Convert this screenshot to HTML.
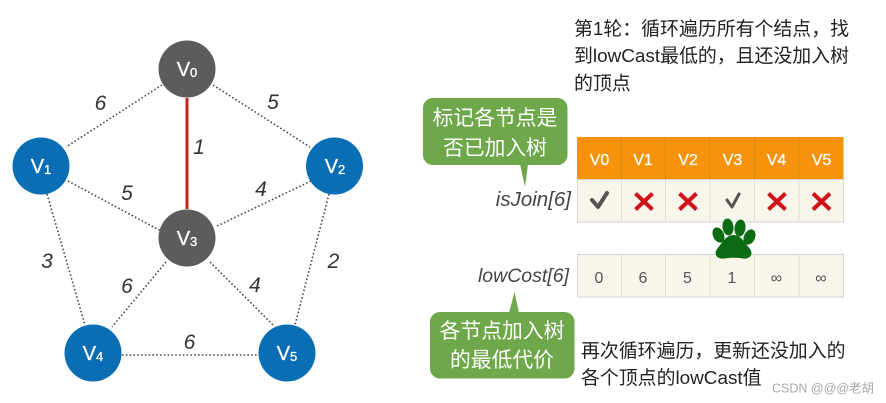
<!DOCTYPE html>
<html>
<head>
<meta charset="utf-8">
<style>
html,body{margin:0;padding:0;background:#fff;width:886px;height:403px;overflow:hidden}
svg{display:block;filter:blur(0.35px)}
text{font-family:"Liberation Sans","Noto Sans CJK SC",sans-serif}
.e{stroke:#4a4a4a;stroke-width:1.6;stroke-dasharray:1.6 2.2;fill:none}
.w{font-size:21px;font-style:italic;fill:#333;text-anchor:middle}
.n{font-size:20px;fill:#fff;text-anchor:middle;stroke:#fff;stroke-width:.3}
.n tspan{font-size:13px}
.h{font-size:16px;fill:#fff;text-anchor:middle;stroke:#fff;stroke-width:.25}
.c{font-size:16px;fill:#555;text-anchor:middle}
.l{font-style:italic;fill:#444;text-anchor:end}
.b{font-size:20.800px;fill:#fff;text-anchor:middle}
.t{font-size:18.900px;fill:#222}
.x{stroke:#d0121b;stroke-width:4;fill:none}
.k{stroke:#555;fill:none;stroke-linecap:round;stroke-linejoin:round}
</style>
</head>
<body>
<svg width="886" height="403" viewBox="0 0 886 403" xmlns="http://www.w3.org/2000/svg">
<rect width="886" height="403" fill="#fff"/>

<!-- edges -->
<line class="e" x1="162" y1="85" x2="66" y2="147"/>
<line class="e" x1="213" y1="85" x2="310" y2="147"/>
<line class="e" x1="68" y1="181" x2="161" y2="231"/>
<line class="e" x1="311" y1="181" x2="215" y2="227"/>
<line class="e" x1="47" y1="194" x2="85" y2="325"/>
<line class="e" x1="329" y1="194" x2="295" y2="325"/>
<line class="e" x1="166" y1="262" x2="112" y2="327"/>
<line class="e" x1="210" y1="262" x2="274" y2="326"/>
<line class="e" x1="122" y1="355" x2="258" y2="355"/>
<line x1="187" y1="98" x2="187" y2="209" stroke="#cc1f1f" stroke-width="3"/>

<!-- weights -->
<text class="w" x="100.500" y="110">6</text>
<text class="w" x="273" y="109">5</text>
<text class="w" x="199" y="154">1</text>
<text class="w" x="127" y="200">5</text>
<text class="w" x="261" y="196">4</text>
<text class="w" x="47" y="268">3</text>
<text class="w" x="333.500" y="268">2</text>
<text class="w" x="127" y="293">6</text>
<text class="w" x="255" y="292">4</text>
<text class="w" x="189.500" y="349">6</text>

<!-- nodes -->
<circle cx="187" cy="69" r="28.500" fill="#5c5c5c"/>
<circle cx="41" cy="166" r="28.500" fill="#0a6eb4"/>
<circle cx="334.500" cy="166" r="28.500" fill="#0a6eb4"/>
<circle cx="187" cy="238" r="28.500" fill="#5c5c5c"/>
<circle cx="93" cy="353" r="28.500" fill="#0a6eb4"/>
<circle cx="287" cy="353" r="28.500" fill="#0a6eb4"/>
<text class="n" x="187" y="76">V<tspan dy="1">0</tspan></text>
<text class="n" x="41" y="173">V<tspan dy="1">1</tspan></text>
<text class="n" x="335" y="173">V<tspan dy="1">2</tspan></text>
<text class="n" x="187" y="245">V<tspan dy="1">3</tspan></text>
<text class="n" x="93" y="360">V<tspan dy="1">4</tspan></text>
<text class="n" x="287" y="360">V<tspan dy="1">5</tspan></text>

<!-- top text -->
<text class="t" x="574" y="35">第1轮：循环遍历所有个结点，找</text>
<text class="t" x="574" y="62">到lowCast最低的，且还没加入树</text>
<text class="t" x="574" y="89.500">的顶点</text>

<!-- table header -->
<rect x="577" y="137" width="266.500" height="42" fill="#f7930a"/>
<g stroke="#d98a1e" stroke-width="1">
<line x1="621.500" y1="137" x2="621.500" y2="179"/>
<line x1="665.500" y1="137" x2="665.500" y2="179"/>
<line x1="710" y1="137" x2="710" y2="179"/>
<line x1="754.500" y1="137" x2="754.500" y2="179"/>
<line x1="799" y1="137" x2="799" y2="179"/>
</g>
<text class="h" x="599.500" y="165">V0</text>
<text class="h" x="643" y="165">V1</text>
<text class="h" x="688" y="165">V2</text>
<text class="h" x="732.500" y="165">V3</text>
<text class="h" x="776.500" y="165">V4</text>
<text class="h" x="821.500" y="165">V5</text>

<!-- isJoin row -->
<rect x="577.500" y="179.500" width="266" height="42.500" fill="#f8f5ea" stroke="#d4d4d0"/>
<g stroke="#e0dfd6" stroke-width="1">
<line x1="621.500" y1="180" x2="621.500" y2="222"/>
<line x1="665.500" y1="180" x2="665.500" y2="222"/>
<line x1="710" y1="180" x2="710" y2="222"/>
<line x1="754.500" y1="180" x2="754.500" y2="222"/>
<line x1="799" y1="180" x2="799" y2="222"/>
</g>
<path class="k" stroke-width="4" d="M592 200 L598 207 L607 193"/>
<path class="k" stroke-width="3" d="M727 200 L732 207 L739 194"/>
<path class="x" d="M635.500 193.500 L652.500 209.500 M652.500 193.500 L635.500 209.500"/>
<path class="x" d="M679.500 193.500 L696.500 209.500 M696.500 193.500 L679.500 209.500"/>
<path class="x" d="M768.500 193.500 L785.500 209.500 M785.500 193.500 L768.500 209.500"/>
<path class="x" d="M813 193.500 L830 209.500 M830 193.500 L813 209.500"/>

<!-- lowCost row -->
<rect x="577.500" y="254.500" width="266" height="42.500" fill="#f8f5ea" stroke="#d4d4d0"/>
<g stroke="#e0dfd6" stroke-width="1">
<line x1="621.500" y1="255" x2="621.500" y2="297"/>
<line x1="665.500" y1="255" x2="665.500" y2="297"/>
<line x1="710" y1="255" x2="710" y2="297"/>
<line x1="754.500" y1="255" x2="754.500" y2="297"/>
<line x1="799" y1="255" x2="799" y2="297"/>
</g>
<text class="c" x="599" y="283">0</text>
<text class="c" x="643" y="283">6</text>
<text class="c" x="687.500" y="283">5</text>
<text class="c" x="732" y="283">1</text>
<text class="c" x="776.500" y="283" style="font-size:16px">∞</text>
<text class="c" x="821" y="283" style="font-size:16px">∞</text>

<!-- paw -->
<g fill="#0a6b12">
<ellipse cx="728" cy="227" rx="5.500" ry="8.500" transform="rotate(-8 728 227)"/>
<ellipse cx="740" cy="228" rx="5.500" ry="8.500" transform="rotate(8 740 228)"/>
<ellipse cx="718.500" cy="235" rx="5.500" ry="8" transform="rotate(-25 718.500 235)"/>
<ellipse cx="749.500" cy="237" rx="5.500" ry="8" transform="rotate(25 749.500 237)"/>
<path d="M733.500 235 C741 235 745 243 750 249 C754 255 749 259.500 743 258.500 C737 257.500 730 257.500 724 258.500 C718 259.500 713 255 717 249 C722 243 726 235 733.500 235 Z"/>
</g>

<!-- labels -->
<text class="l" x="571" y="206" style="font-size:20.500px">isJoin[6]</text>
<text class="l" x="569" y="282" style="font-size:19.500px">lowCost[6]</text>

<!-- bubble 1 -->
<path d="M520 164 L525 187 L528 164 Z" fill="#6fa84b"/>
<rect x="423" y="98" width="144.500" height="67" rx="10" fill="#6fa84b"/>
<text class="b" x="495" y="125">标记各节点是</text>
<text class="b" x="495" y="155">否已加入树</text>

<!-- bubble 2 -->
<path d="M509 313 L514.500 292 L519 313 Z" fill="#6fa84b"/>
<rect x="430" y="312" width="144.500" height="66.500" rx="10" fill="#6fa84b"/>
<text class="b" x="502" y="338">各节点加入树</text>
<text class="b" x="502" y="367">的最低代价</text>

<!-- bottom text -->
<text class="t" x="581" y="357">再次循环遍历，更新还没加入的</text>
<text class="t" x="581" y="384">各个顶点的lowCast值</text>

<!-- watermark -->
<text x="772" y="392.500" font-size="12.500" fill="#a8a8a8">CSDN @@@老胡</text>
</svg>
</body>
</html>
